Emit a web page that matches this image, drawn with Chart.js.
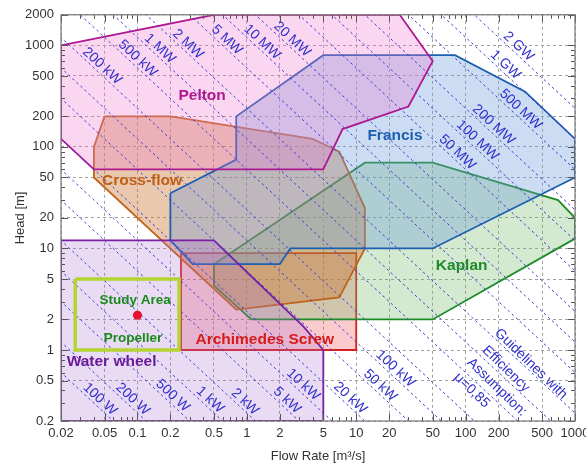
<!DOCTYPE html>
<html>
<head>
<meta charset="utf-8">
<script src="https://cdn.jsdelivr.net/npm/chart.js@4.4.1/dist/chart.umd.min.js"></script>
<style>
  html, body { margin: 0; padding: 0; background: #fff; }
  #wrap { width: 586px; height: 464px; }
</style>
</head>
<body>
<div id="wrap"><canvas id="turbineChart" width="586" height="464"></canvas></div>
<script>
// axis ticks
const xTicks = [0.02, 0.05, 0.1, 0.2, 0.5, 1, 2, 5, 10, 20, 50, 100, 200, 500, 1000];
const xTickLabels = ['0.02', '0.05', '0.1', '0.2', '0.5', '1', '2', '5', '10', '20', '50', '100', '200', '500', '1000'];
const yTicks = [0.2, 0.5, 1, 2, 5, 10, 20, 50, 100, 200, 500, 1000, 2000];
const yTickLabels = ['0.2', '0.5', '1', '2', '5', '10', '20', '50', '100', '200', '500', '1000', '2000'];

// turbine application ranges (flow m3/s, head m)
const peltonFlow = [0.02, 0.5, 25, 50, 30, 7.5, 5, 0.04, 0.02];
const peltonHead = [1000, 2000, 2000, 700, 250, 150, 60, 60, 120];
const francisFlow = [0.2, 0.8, 0.8, 5, 80, 350, 1000, 1000, 50, 2.5, 2, 0.32, 0.2];
const francisHead = [35, 75, 200, 800, 800, 350, 120, 50, 10, 10, 7, 7, 12];
const crossFlow = [0.05, 0.2, 4, 7, 12, 12, 7, 0.8, 0.04, 0.04];
const crossHead = [200, 200, 120, 90, 25, 10, 3.3, 2.5, 50, 100];
const kaplanFlow = [0.5, 12, 50, 700, 1000, 1000, 50, 1.1, 0.5];
const kaplanHead = [7, 70, 70, 30, 20, 12.5, 2, 2, 4.3];
const screwFlow = [0.25, 10, 10, 0.25];
const screwHead = [9, 9, 1, 1];
const wheelFlow = [0.02, 0.02, 0.5, 3.3, 5, 5];
const wheelHead = [0.2, 12, 12, 1.7, 1, 0.2];
const studyFlow = [0.027, 0.24, 0.24, 0.027];
const studyHead = [5, 5, 1, 1];
const sitePoint = { flow: 0.1, head: 2.2 };

// power guidelines, P = rho * g * eta * Q * H with eta = 0.85
const powerLabels = ['100 W', '200 W', '500 W', '1 kW', '2 kW', '5 kW', '10 kW', '20 kW', '50 kW', '100 kW',
  '200 kW', '500 kW', '1 MW', '2 MW', '5 MW', '10 MW', '20 MW', '50 MW', '100 MW', '200 MW', '500 MW', '1 GW', '2 GW'];
const powerWatts = [100, 200, 500, 1e3, 2e3, 5e3, 1e4, 2e4, 5e4, 1e5,
  2e5, 5e5, 1e6, 2e6, 5e6, 1e7, 2e7, 5e7, 1e8, 2e8, 5e8, 1e9, 2e9];
const powerLabelFlow = [0.041, 0.082, 0.19, 0.417, 0.87, 2.11, 2.96, 7.97, 15, 20.6,
  0.043, 0.091, 0.145, 0.262, 0.596, 1.25, 2.35, 76, 116, 163, 288, 209, 276];
const efficiency = 0.85;

// region labels
const regionNames = ['Pelton', 'Francis', 'Cross-flow', 'Kaplan', 'Archimedes Screw', 'Water wheel', 'Study Area', 'Propeller'];
const regionLabelFlow = [0.39, 22.6, 0.11, 92, 1.46, 0.058, 0.095, 0.091];
const regionLabelHead = [320, 129, 46.7, 6.8, 1.25, 0.76, 3.09, 1.31];
const regionColors = ['#b01890', '#1d5fb0', '#c0601a', '#1f8a2a', '#d41c1c', '#6a1b9a', '#1a8a1a', '#1a8a1a'];
const noteLines = ['Guidelines with', 'Efficiency', 'Assumption:', 'μ=0,85'];
const noteFlow = [395, 234, 193, 114];
const noteHead = [0.73, 0.65, 0.43, 0.40];

function pts(xs, ys, close) {
  const p = xs.map((x, i) => ({ x: x, y: ys[i] }));
  if (close) p.push({ x: xs[0], y: ys[0] });
  return p;
}

function region(label, xs, ys, border, fill) {
  return {
    label: label, data: pts(xs, ys, true), showLine: true, fill: 'shape',
    borderColor: border, backgroundColor: fill, borderWidth: 1.8,
    pointRadius: 0, order: 3
  };
}

const rhoG = 1000 * 9.81 * efficiency;
const datasets = [
  region('Water wheel', wheelFlow, wheelHead, '#7a1fa2', 'rgba(170,110,210,0.25)'),
  region('Pelton', peltonFlow, peltonHead, '#b01890', 'rgba(240,120,210,0.3)'),
  region('Francis', francisFlow, francisHead, '#1d5fb0', 'rgba(110,155,220,0.35)'),
  region('Cross-flow', crossFlow, crossHead, '#c0651a', 'rgba(200,110,40,0.38)'),
  region('Kaplan', kaplanFlow, kaplanHead, '#1f8a2a', 'rgba(110,185,100,0.3)'),
  region('Archimedes Screw', screwFlow, screwHead, '#d42020', 'rgba(240,80,90,0.3)')
];
powerWatts.forEach((w, i) => {
  const k = w / rhoG;
  datasets.push({
    label: powerLabels[i], data: [{ x: 0.01, y: k / 0.01 }, { x: 2000, y: k / 2000 }],
    showLine: true, fill: false, borderColor: '#3c3cd2', borderWidth: 1,
    borderDash: [2.5, 3], pointRadius: 0, order: 2
  });
});
datasets.push({
  label: 'Study Area', data: pts(studyFlow, studyHead, true), showLine: true, fill: false,
  borderColor: '#b4d432', borderWidth: 3.5, pointRadius: 0, order: 1
});
datasets.push({
  label: 'Site', data: [{ x: sitePoint.flow, y: sitePoint.head }], showLine: false,
  pointRadius: 4.5, pointBackgroundColor: '#e8102a', pointBorderWidth: 0, order: 0
});

const frameAndText = {
  id: 'frameAndText',
  afterDatasetsDraw(chart) {
    const { ctx, chartArea: a } = chart;
    const xs = chart.scales.x, ys = chart.scales.y;
    ctx.save();
    // minor ticks on all four sides
    ctx.strokeStyle = '#555';
    ctx.lineWidth = 1;
    for (let n = -2; n <= 3; n++) {
      for (let m = 1; m <= 9; m++) {
        const v = m * Math.pow(10, n);
        if (v >= 0.02 && v <= 1000) {
          const len = xTicks.some(t => Math.abs(t - v) < v * 1e-6) ? 7 : 4;
          const px = Math.round(xs.getPixelForValue(v)) + 0.5;
          ctx.beginPath();
          ctx.moveTo(px, a.bottom); ctx.lineTo(px, a.bottom - len);
          ctx.moveTo(px, a.top); ctx.lineTo(px, a.top + len);
          ctx.stroke();
        }
        if (v >= 0.2 && v <= 2000) {
          const len = yTicks.some(t => Math.abs(t - v) < v * 1e-6) ? 7 : 4;
          const py = Math.round(ys.getPixelForValue(v)) + 0.5;
          ctx.beginPath();
          ctx.moveTo(a.left, py); ctx.lineTo(a.left + len, py);
          ctx.moveTo(a.right, py); ctx.lineTo(a.right - len, py);
          ctx.stroke();
        }
      }
    }
    ctx.strokeStyle = '#777';
    ctx.lineWidth = 1.2;
    ctx.strokeRect(a.left, a.top, a.right - a.left, a.bottom - a.top);

    // power labels along the guideline direction
    ctx.textAlign = 'center';
    ctx.textBaseline = 'middle';
    ctx.font = '14px "Liberation Sans", Arial, sans-serif';
    ctx.fillStyle = '#3030cc';
    ctx.beginPath();
    ctx.rect(a.left, a.top, a.right - a.left, a.bottom - a.top);
    ctx.clip();
    let angle = 0;
    powerWatts.forEach((w, i) => {
      const k = w / rhoG;
      const q = powerLabelFlow[i];
      const x1 = xs.getPixelForValue(q), y1 = ys.getPixelForValue(k / q);
      const x2 = xs.getPixelForValue(q * 10), y2 = ys.getPixelForValue(k / (q * 10));
      angle = Math.atan2(y2 - y1, x2 - x1);
      const d = 7;
      ctx.save();
      ctx.translate(x1 + Math.sin(angle) * d, y1 - Math.cos(angle) * d);
      ctx.rotate(angle);
      ctx.fillText(powerLabels[i], 0, 0);
      ctx.restore();
    });
    noteLines.forEach((t, i) => {
      ctx.save();
      ctx.translate(xs.getPixelForValue(noteFlow[i]), ys.getPixelForValue(noteHead[i]));
      ctx.rotate(angle + 0.02);
      ctx.fillText(t, 0, 0);
      ctx.restore();
    });

    // region names
    regionNames.forEach((t, i) => {
      ctx.font = (i >= 6 ? 'bold 13.5px' : 'bold 15.5px') + ' "Liberation Sans", Arial, sans-serif';
      ctx.fillStyle = regionColors[i];
      ctx.fillText(t, xs.getPixelForValue(regionLabelFlow[i]), ys.getPixelForValue(regionLabelHead[i]));
    });
    ctx.restore();
  }
};

const ctx = document.getElementById('turbineChart').getContext('2d');
const turbineChart = new Chart(ctx, {
  type: 'scatter',
  data: { datasets: datasets },
  options: {
    responsive: false,
    animation: false,
    layout: { padding: { top: 14, right: 11, left: 0, bottom: 0 } },
    plugins: { legend: { display: false }, tooltip: { enabled: false } },
    scales: {
      x: {
        type: 'logarithmic', min: 0.02, max: 1000,
        afterBuildTicks: s => { s.ticks = xTicks.map(v => ({ value: v })); },
        afterFit: s => { s.height = 43; s.paddingLeft = 0; s.paddingRight = 0; },
        ticks: {
          autoSkip: false, maxRotation: 0, padding: 5, color: '#333',
          font: { family: '"Liberation Sans", Arial, sans-serif', size: 13 },
          callback: (v, i) => xTickLabels[i]
        },
        grid: { color: '#a0a0a0', lineWidth: 1, drawTicks: false },
        border: { display: false, dash: [3, 3] },
        title: {
          display: true, text: 'Flow Rate [m³/s]', color: '#333', padding: { top: 2, bottom: 0 },
          font: { family: '"Liberation Sans", Arial, sans-serif', size: 13 }
        }
      },
      y: {
        type: 'logarithmic', min: 0.2, max: 2000,
        afterBuildTicks: s => { s.ticks = yTicks.map(v => ({ value: v })); },
        afterFit: s => { s.width = 61; },
        ticks: {
          autoSkip: false, padding: 7, color: '#333',
          font: { family: '"Liberation Sans", Arial, sans-serif', size: 13 },
          callback: (v, i) => yTickLabels[i]
        },
        grid: { color: '#a0a0a0', lineWidth: 1, drawTicks: false },
        border: { display: false, dash: [3, 3] },
        title: {
          display: true, text: 'Head [m]', color: '#333', padding: { top: 13, bottom: 0 },
          font: { family: '"Liberation Sans", Arial, sans-serif', size: 13 }
        }
      }
    }
  },
  plugins: [frameAndText]
});
</script>
</body>
</html>
